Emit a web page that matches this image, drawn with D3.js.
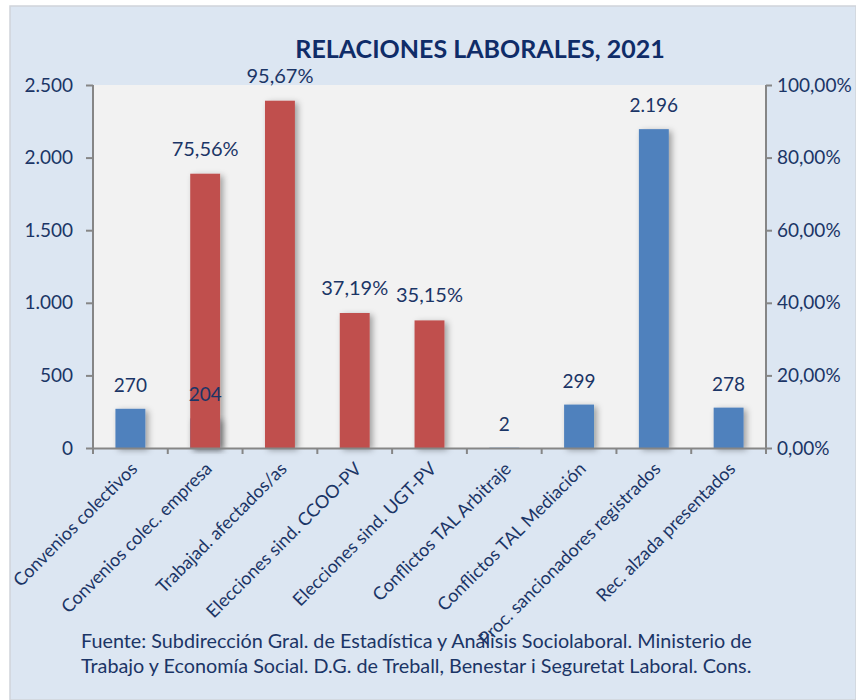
<!DOCTYPE html>
<html>
<head>
<meta charset="utf-8">
<script src="https://cdn.jsdelivr.net/npm/d3@7"></script>
<style>
	body { margin: 0; background: #ffffff; }
	svg text { font-family: Lato, "Open Sans", sans-serif; fill: #1b3566; }
</style>
</head>
<body>
<div id="chart"></div>
<script>

// categories and values
const categories = [
	"Convenios colectivos",
	"Convenios colec. empresa",
	"Trabajad. afectados/as",
	"Elecciones sind. CCOO-PV",
	"Elecciones sind. UGT-PV",
	"Conflictos TAL Arbitraje",
	"Conflictos TAL Mediación",
	"Proc. sancionadores registrados",
	"Rec. alzada presentados"
]

// counts, left axis (null = no value)
const counts = [270, 204, null, null, null, 2, 299, 2196, 278]

// percentages, right axis
const percents = [null, 75.56, 95.67, 37.19, 35.15, null, null, null, null]

const leftTicks = [0, 500, 1000, 1500, 2000, 2500]
const rightTicks = [0, 20, 40, 60, 80, 100]

const title = "RELACIONES LABORALES, 2021"
const source = [
	"Fuente: Subdirección Gral. de Estadística y Análisis Sociolaboral. Ministerio de",
	"Trabajo y Economía Social. D.G. de Treball, Benestar i Seguretat Laboral. Cons."
]

const width = 856
const height = 700
const plot = {left: 93, right: 766, top: 85, bottom: 448}

const blue = "#4f81bd"
const red = "#c0504d"

const svg = d3.select("#chart").append("svg")
	.attr("width", width)
	.attr("height", height)

const defs = svg.append("defs")
const shadow = defs.append("filter")
	.attr("id", "shadow")
	.attr("x", "-20%").attr("y", "-10%")
	.attr("width", "160%").attr("height", "130%")
shadow.append("feDropShadow")
	.attr("dx", 3).attr("dy", 2)
	.attr("stdDeviation", 3)
	.attr("flood-color", "#000")
	.attr("flood-opacity", 0.35)

// background
svg.append("rect")
	.attr("x", 10).attr("y", 6)
	.attr("width", width - 10).attr("height", height - 6)
	.attr("fill", "#dce6f2")
	.attr("stroke", "#d0d4da")
	.attr("stroke-width", 1.5)

svg.append("rect")
	.attr("x", plot.left).attr("y", plot.top)
	.attr("width", plot.right - plot.left)
	.attr("height", plot.bottom - plot.top)
	.attr("fill", "#f2f2f2")

const x = d3.scaleBand()
	.domain(categories)
	.range([plot.left, plot.right])

const yLeft = d3.scaleLinear()
	.domain([0, 2500])
	.range([plot.bottom, plot.top])

const yRight = d3.scaleLinear()
	.domain([0, 100])
	.range([plot.bottom, plot.top])

const barW = x.bandwidth() * 0.4
const fmtCount = d3.formatLocale({decimal: ",", thousands: ".", grouping: [3]}).format(",d")
const fmtPct = d => d.toFixed(2).replace(".", ",") + "%"

const countData = categories.map((c, i) => ({cat: c, v: counts[i]})).filter(d => d.v != null)
const pctData = categories.map((c, i) => ({cat: c, v: percents[i]})).filter(d => d.v != null)

// blue bars (left axis) first, red ones on top
svg.append("g")
	.selectAll("rect")
	.data(countData)
	.enter()
	.append("rect")
	.attr("x", d => x(d.cat) + (x.bandwidth() - barW) / 2)
	.attr("y", d => yLeft(d.v))
	.attr("width", barW)
	.attr("height", d => plot.bottom - yLeft(d.v))
	.attr("fill", blue)
	.attr("filter", "url(#shadow)")

svg.append("g")
	.selectAll("rect")
	.data(pctData)
	.enter()
	.append("rect")
	.attr("x", d => x(d.cat) + (x.bandwidth() - barW) / 2)
	.attr("y", d => yRight(d.v))
	.attr("width", barW)
	.attr("height", d => plot.bottom - yRight(d.v))
	.attr("fill", red)
	.attr("filter", "url(#shadow)")

// axes
const axisColor = "#868686"

const leftAxis = svg.append("g")
	.attr("transform", "translate(" + plot.left + ",0)")
	.call(d3.axisLeft(yLeft).tickValues(leftTicks).tickSize(7).tickPadding(13).tickFormat(fmtCount))

const rightAxis = svg.append("g")
	.attr("transform", "translate(" + plot.right + ",0)")
	.call(d3.axisRight(yRight).tickValues(rightTicks).tickSize(6).tickPadding(5).tickFormat(fmtPct))

const xAxis = svg.append("g")
	.attr("transform", "translate(0," + plot.bottom + ")")
	.call(d3.axisBottom(x).tickSize(0).tickFormat(""))

// category ticks sit on band boundaries
const bounds = categories.map(c => x(c)).concat([plot.right])
xAxis.selectAll(".bound")
	.data(bounds)
	.enter()
	.append("line")
	.attr("class", "bound")
	.attr("x1", d => d).attr("x2", d => d)
	.attr("y1", 0).attr("y2", 6)

;[leftAxis, rightAxis, xAxis].forEach(function(a) {
	a.select(".domain").attr("stroke", axisColor).attr("stroke-width", 2)
	a.selectAll("line").attr("stroke", axisColor).attr("stroke-width", 2)
	a.selectAll("text").attr("font-size", "19px").attr("fill", "#1b3566")
})
leftAxis.select(".domain").attr("d", "M0," + plot.bottom + "V" + plot.top)
rightAxis.select(".domain").attr("d", "M0," + plot.bottom + "V" + plot.top)

// category labels
svg.append("g")
	.selectAll("text")
	.data(categories)
	.enter()
	.append("text")
	.attr("transform", d => "translate(" + (x(d) + x.bandwidth() / 2 + 8) + "," + (plot.bottom + 22) + ") rotate(-45)")
	.attr("text-anchor", "end")
	.attr("font-size", "18px")
	.text(d => d)

// data labels
svg.append("g")
	.selectAll("text")
	.data(countData)
	.enter()
	.append("text")
	.attr("x", d => x(d.cat) + x.bandwidth() / 2)
	.attr("y", d => yLeft(d.v) - 17)
	.attr("text-anchor", "middle")
	.attr("font-size", "19px")
	.text(d => fmtCount(d.v))

svg.append("g")
	.selectAll("text")
	.data(pctData)
	.enter()
	.append("text")
	.attr("x", d => x(d.cat) + x.bandwidth() / 2)
	.attr("y", d => yRight(d.v) - 18)
	.attr("text-anchor", "middle")
	.attr("font-size", "20px")
	.text(d => fmtPct(d.v))

// title
svg.append("text")
	.attr("x", 480)
	.attr("y", 58)
	.attr("text-anchor", "middle")
	.attr("font-size", "25px")
	.attr("font-weight", "bold")
	.style("fill", "#0f2c68")
	.text(title)

// source
svg.append("g")
	.selectAll("text")
	.data(source)
	.enter()
	.append("text")
	.attr("x", 81)
	.attr("y", (d, i) => 648 + i * 25)
	.attr("font-size", "19.8px")
	.text(d => d)

</script>
</body>
</html>
